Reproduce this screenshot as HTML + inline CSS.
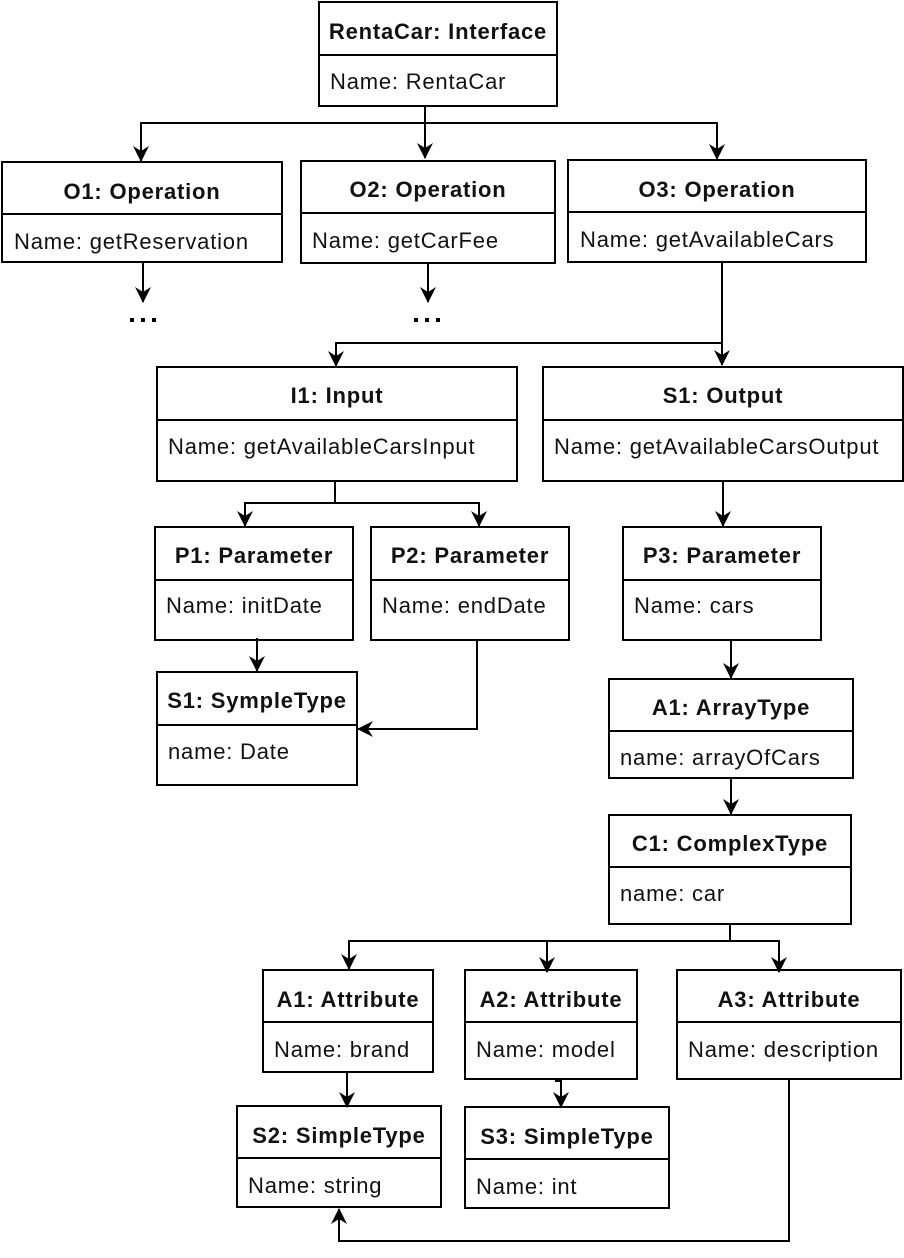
<!DOCTYPE html>
<html><head><meta charset="utf-8"><style>
html,body{margin:0;padding:0;background:#fff}
svg{display:block}
text{font-family:"Liberation Sans",Arial,sans-serif;font-size:22px;letter-spacing:0.8px;fill:#111}
.t{font-weight:bold;text-anchor:middle}
</style></head><body>
<svg width="904" height="1258" viewBox="0 0 904 1258" xmlns="http://www.w3.org/2000/svg">
<defs>
<marker id="b" markerWidth="16" markerHeight="16" refX="15" refY="8" orient="auto" markerUnits="userSpaceOnUse" viewBox="0 0 16 16"><path d="M0,0 L16,8 L0,16 L5,8 z" fill="#000"/></marker></defs>
<g fill="none" stroke="#000" stroke-width="2">
<rect x="319" y="2" width="238" height="104"/><line x1="319" y1="55" x2="557" y2="55"/>
<rect x="2" y="162" width="280" height="100"/><line x1="2" y1="214" x2="282" y2="214"/>
<rect x="301" y="161" width="254" height="102"/><line x1="301" y1="213" x2="555" y2="213"/>
<rect x="568" y="160" width="298" height="102"/><line x1="568" y1="212" x2="866" y2="212"/>
<rect x="157" y="367" width="360" height="114"/><line x1="157" y1="420" x2="517" y2="420"/>
<rect x="543" y="367" width="360" height="114"/><line x1="543" y1="420" x2="903" y2="420"/>
<rect x="155" y="527" width="198" height="113"/><line x1="155" y1="580" x2="353" y2="580"/>
<rect x="371" y="527" width="198" height="113"/><line x1="371" y1="580" x2="569" y2="580"/>
<rect x="623" y="527" width="198" height="113"/><line x1="623" y1="580" x2="821" y2="580"/>
<rect x="157" y="672" width="200" height="113"/><line x1="157" y1="725" x2="357" y2="725"/>
<rect x="609" y="679" width="244" height="99"/><line x1="609" y1="731" x2="853" y2="731"/>
<rect x="609" y="815" width="242" height="109"/><line x1="609" y1="867" x2="851" y2="867"/>
<rect x="263" y="970" width="170" height="102"/><line x1="263" y1="1022" x2="433" y2="1022"/>
<rect x="465" y="970" width="172" height="109"/><line x1="465" y1="1022" x2="637" y2="1022"/>
<rect x="677" y="970" width="224" height="109"/><line x1="677" y1="1022" x2="901" y2="1022"/>
<rect x="237" y="1106" width="204" height="101"/><line x1="237" y1="1158" x2="441" y2="1158"/>
<rect x="465" y="1107" width="204" height="101"/><line x1="465" y1="1159" x2="669" y2="1159"/>
</g>
<g fill="none" stroke="#000" stroke-width="2">
<path d="M425,106 V123 H141 V161" marker-end="url(#b)"/>
<path d="M425,123 V158" marker-end="url(#b)"/>
<path d="M425,123 H717 V159" marker-end="url(#b)"/>
<path d="M143,262 V302" marker-end="url(#b)"/>
<path d="M428,263 V302" marker-end="url(#b)"/>
<path d="M722,262 V365" marker-end="url(#b)"/>
<path d="M722,343 H336 V366" marker-end="url(#b)"/>
<path d="M335,481 V503 H245 V526" marker-end="url(#b)"/>
<path d="M335,503 H479 V526" marker-end="url(#b)"/>
<path d="M723,481 V526" marker-end="url(#b)"/>
<path d="M257,638 V671" marker-end="url(#b)"/>
<path d="M477,640 V729 H358" marker-end="url(#b)"/>
<path d="M731,640 V678" marker-end="url(#b)"/>
<path d="M731,778 V814" marker-end="url(#b)"/>
<path d="M730,924 V941 H349 V969" marker-end="url(#b)"/>
<path d="M547,941 V972" marker-end="url(#b)"/>
<path d="M730,941 H779 V972" marker-end="url(#b)"/>
<path d="M347,1072 V1107" marker-end="url(#b)"/>
<path d="M555,1081 H561 V1107" marker-end="url(#b)"/>
<path d="M789,1079 V1241 H339 V1209" marker-end="url(#b)"/>
</g>
<g fill="#000"><rect x="130" y="318" width="4" height="4"/><rect x="141" y="318" width="4" height="4"/><rect x="152" y="318" width="4" height="4"/>
<rect x="414" y="318" width="4" height="4"/><rect x="425" y="318" width="4" height="4"/><rect x="436" y="318" width="4" height="4"/></g>
<text class="t" x="438" y="39">RentaCar: Interface</text><text x="330" y="89">Name: RentaCar</text>
<text class="t" x="142" y="199">O1: Operation</text><text x="14" y="249">Name: getReservation</text>
<text class="t" x="428" y="197">O2: Operation</text><text x="312" y="248">Name: getCarFee</text>
<text class="t" x="717" y="197">O3: Operation</text><text x="580" y="247">Name: getAvailableCars</text>
<text class="t" x="337" y="403">I1: Input</text><text x="168" y="454">Name: getAvailableCarsInput</text>
<text class="t" x="723" y="403">S1: Output</text><text x="554" y="454">Name: getAvailableCarsOutput</text>
<text class="t" x="254" y="563">P1: Parameter</text><text x="166" y="613">Name: initDate</text>
<text class="t" x="470" y="563">P2: Parameter</text><text x="382" y="613">Name: endDate</text>
<text class="t" x="722" y="563">P3: Parameter</text><text x="634" y="613">Name: cars</text>
<text class="t" x="257" y="708">S1: SympleType</text><text x="168" y="759">name: Date</text>
<text class="t" x="731" y="715">A1: ArrayType</text><text x="620" y="765">name: arrayOfCars</text>
<text class="t" x="730" y="851">C1: ComplexType</text><text x="620" y="901">name: car</text>
<text class="t" x="348" y="1007">A1: Attribute</text><text x="274" y="1057">Name: brand</text>
<text class="t" x="551" y="1007">A2: Attribute</text><text x="476" y="1057">Name: model</text>
<text class="t" x="789" y="1007">A3: Attribute</text><text x="688" y="1057">Name: description</text>
<text class="t" x="339" y="1143">S2: SimpleType</text><text x="248" y="1193">Name: string</text>
<text class="t" x="567" y="1144">S3: SimpleType</text><text x="476" y="1194">Name: int</text>
</svg>
</body></html>
